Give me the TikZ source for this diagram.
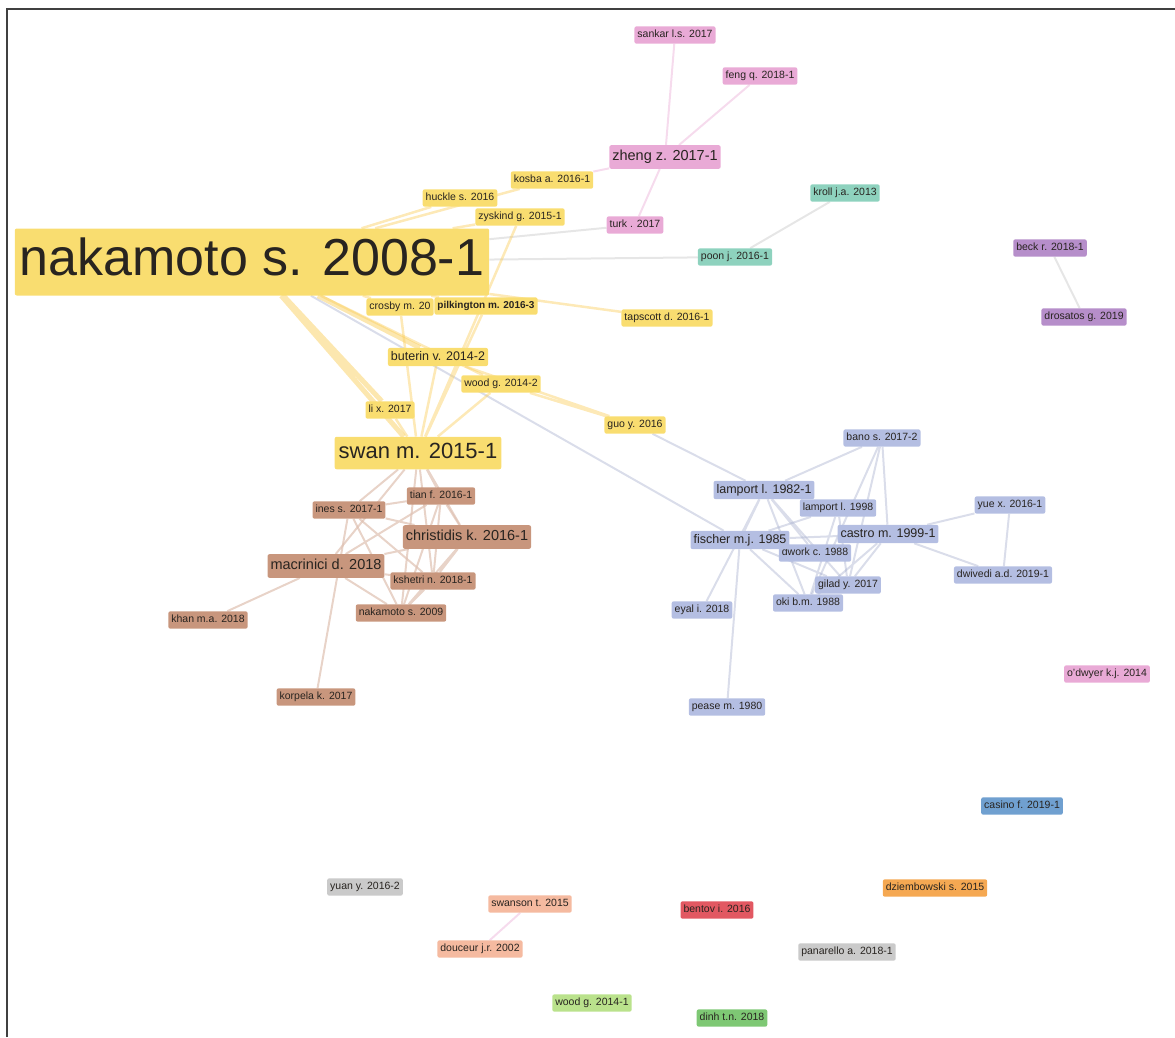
\documentclass[tikz,border=0pt]{standalone}
\usepackage{fontspec}
\setmainfont{Liberation Sans}
\usetikzlibrary{backgrounds}
\definecolor{cy}{RGB}{249,221,112}
\definecolor{cp}{RGB}{233,170,214}
\definecolor{ct}{RGB}{142,210,190}
\definecolor{cu}{RGB}{182,142,202}
\definecolor{cb}{RGB}{200,150,125}
\definecolor{cl}{RGB}{180,190,226}
\definecolor{cc}{RGB}{112,160,208}
\definecolor{co}{RGB}{245,168,82}
\definecolor{cg}{RGB}{202,202,202}
\definecolor{cs}{RGB}{245,186,160}
\definecolor{cr}{RGB}{226,88,98}
\definecolor{cw}{RGB}{186,226,140}
\definecolor{cd}{RGB}{126,200,116}
\definecolor{ctx}{RGB}{40,36,32}

\begin{document}
\begin{tikzpicture}[x=1pt,y=-1pt]
\tikzstyle{every node}=[rounded corners=2pt,inner xsep=3pt,inner ysep=3.7pt,text height=7.8pt,text depth=2.1pt,text=ctx,font=\fontsize{10.5}{12}\selectfont]
\tikzstyle{fmid}=[font=\fontsize{12.5}{14}\selectfont,text height=9.2pt,text depth=2.6pt,inner ysep=3.2pt]
\tikzstyle{fbig}=[font=\fontsize{14.5}{16}\selectfont,text height=10.6pt,text depth=3pt,inner ysep=5pt]
\tikzstyle{fswan}=[font=\fontsize{22}{24}\selectfont,text height=16pt,text depth=4.5pt,inner xsep=4pt,inner ysep=6pt]
\tikzstyle{fnak}=[font=\fontsize{52}{56}\selectfont,text height=38pt,text depth=11pt,inner xsep=5pt,inner ysep=9pt]
\tikzstyle{ye}=[draw=cy!85!orange,line width=2.5pt,opacity=.45]
\tikzstyle{yt}=[draw=cy!85!orange,line width=5pt,opacity=.5]
\tikzstyle{re}=[draw=cb!60!white,line width=2pt,opacity=.7]
\tikzstyle{be}=[draw=cl!90!black,line width=2pt,opacity=.4]
\tikzstyle{pe}=[draw=cp!60!white,line width=2pt,opacity=.7]
\tikzstyle{ge}=[draw=black!12,line width=2pt,opacity=.8]
\useasboundingbox (0,0) rectangle (1175,1037);
\draw[black!75,line width=1.2pt] (7,1037)--(7,9)--(1175,9);

\node[fill=cy,fnak] (nak) at (252,262) {nakamoto s. 2008-1};
\node[fill=cy] (huck) at (460,198) {huckle s. 2016};
\node[fill=cy] (kosba) at (552,180) {kosba a. 2016-1};
\node[fill=cy] (zysk) at (520,217) {zyskind g. 2015-1};
\node[fill=cy] (crosby) at (400,307) {crosby m. 20};
\node[fill=cy,font=\fontsize{10}{12}\selectfont\bfseries] (pilk) at (486,306) {pilkington m. 2016-3};
\node[fill=cy] (taps) at (667,318) {tapscott d. 2016-1};
\node[fill=cy,fmid] (but) at (438,357) {buterin v. 2014-2};
\node[fill=cy] (woodb) at (501,384) {wood g. 2014-2};
\node[fill=cy] (lix) at (390,410) {li x. 2017};
\node[fill=cy] (guo) at (635,425) {guo y. 2016};
\node[fill=cy,fswan] (swan) at (418,453) {swan m. 2015-1};

\node[fill=cp] (sank) at (675,35) {sankar l.s. 2017};
\node[fill=cp] (feng) at (760,76) {feng q. 2018-1};
\node[fill=cp,fbig] (zheng) at (665,157) {zheng z. 2017-1};
\node[fill=cp] (turk) at (635,225) {turk . 2017};
\node[fill=cp] (odw) at (1107,674) {o'dwyer k.j. 2014};

\node[fill=ct] (kroll) at (845,193) {kroll j.a. 2013};
\node[fill=ct] (poon) at (735,257) {poon j. 2016-1};
\node[fill=cu] (beck) at (1050,248) {beck r. 2018-1};
\node[fill=cu] (dros) at (1084,317) {drosatos g. 2019};

\node[fill=cb] (tian) at (441,496) {tian f. 2016-1};
\node[fill=cb] (ines) at (349,510) {ines s. 2017-1};
\node[fill=cb,fbig] (chri) at (467,537) {christidis k. 2016-1};
\node[fill=cb,fbig] (macr) at (326,566) {macrinici d. 2018};
\node[fill=cb] (kshe) at (433,581) {kshetri n. 2018-1};
\node[fill=cb] (nak9) at (401,613) {nakamoto s. 2009};
\node[fill=cb] (khan) at (208,620) {khan m.a. 2018};
\node[fill=cb] (korp) at (316,697) {korpela k. 2017};

\node[fill=cl] (bano) at (882,438) {bano s. 2017-2};
\node[fill=cl,fmid] (lam82) at (764,490) {lamport l. 1982-1};
\node[fill=cl] (lam98) at (838,508) {lamport l. 1998};
\node[fill=cl] (dwork) at (815,553) {dwork c. 1988};
\node[fill=cl,fmid] (fisch) at (740,540) {fischer m.j. 1985};
\node[fill=cl,fmid] (castro) at (888,534) {castro m. 1999-1};
\node[fill=cl] (oki) at (808,603) {oki b.m. 1988};
\node[fill=cl] (gilad) at (848,585) {gilad y. 2017};
\node[fill=cl] (yue) at (1010,505) {yue x. 2016-1};
\node[fill=cl] (dwiv) at (1003,575) {dwivedi a.d. 2019-1};
\node[fill=cl] (eyal) at (702,610) {eyal i. 2018};
\node[fill=cl] (pease) at (727,707) {pease m. 1980};

\node[fill=cc] (casino) at (1022,806) {casino f. 2019-1};
\node[fill=co] (dziem) at (935,888) {dziembowski s. 2015};
\node[fill=cg] (yuan) at (365,887) {yuan y. 2016-2};
\node[fill=cs] (swans) at (530,904) {swanson t. 2015};
\node[fill=cs] (douc) at (480,949) {douceur j.r. 2002};
\node[fill=cr] (bent) at (717,910) {bentov i. 2016};
\node[fill=cg] (pana) at (847,952) {panarello a. 2018-1};
\node[fill=cw] (wooda) at (592,1003) {wood g. 2014-1};
\node[fill=cd] (dinh) at (732,1018) {dinh t.n. 2018};

\begin{scope}[on background layer]
\draw[ge] (nak)--(poon) (nak)--(turk) (kroll)--(poon) (beck)--(dros);
\draw[be] (nak)--(fisch) (guo)--(lam82);
\draw[pe] (kosba)--(zheng) (turk)--(zheng) (sank)--(zheng) (feng)--(zheng) (swans)--(douc);
\draw[yt] (nak)--(swan) (nak)--(lix) (nak)--(but);
\draw[ye] (nak)--(woodb) (nak)--(crosby) (nak)--(pilk) (nak)--(taps) (nak)--(huck) (nak)--(kosba) (nak)--(zysk);
\draw[ye] (swan)--(but) (swan)--(woodb) (swan)--(lix) (swan)--(pilk) (swan)--(zysk) (swan)--(crosby) (but)--(guo) (woodb)--(guo);
\draw[re] (swan)--(tian) (swan)--(ines) (swan)--(chri) (swan)--(macr) (swan)--(kshe) (swan)--(nak9);
\draw[re] (ines)--(tian) (ines)--(chri) (ines)--(kshe) (ines)--(nak9) (ines)--(korp) (macr)--(tian) (macr)--(chri) (macr)--(kshe) (macr)--(nak9) (macr)--(khan);
\draw[re] (tian)--(kshe) (tian)--(nak9) (tian)--(chri) (chri)--(kshe) (chri)--(nak9) (kshe)--(nak9);
\draw[be] (lam82)--(bano) (lam82)--(fisch) (lam82)--(dwork) (lam82)--(oki) (lam82)--(gilad) (lam82)--(eyal) (lam82)--(lam98);
\draw[be] (fisch)--(pease) (fisch)--(castro) (fisch)--(dwork) (fisch)--(oki) (fisch)--(gilad) (lam98)--(oki) (lam98)--(gilad) (lam98)--(fisch);
\draw[be] (castro)--(bano) (castro)--(yue) (castro)--(dwiv) (castro)--(gilad) (castro)--(oki) (bano)--(gilad) (bano)--(oki) (yue)--(dwiv);
\end{scope}
\end{tikzpicture}
\end{document}
